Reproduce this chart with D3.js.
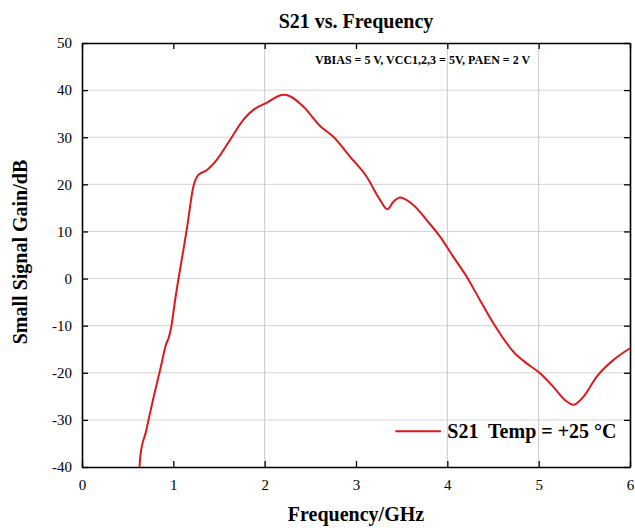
<!DOCTYPE html>
<html>
<head>
<meta charset="utf-8">
<script src="https://cdn.jsdelivr.net/npm/d3@7"></script>
<style>
  body { margin: 0; background: #fff; }
  text { font-family: "Liberation Serif", "Times New Roman", serif; }
</style>
</head>
<body>
<div id="chart"></div>
<script>
// Data
let freq = [0.63, 0.64, 0.70, 0.78, 0.86, 0.92, 0.95, 0.975, 1.02, 1.11, 1.146,
            1.219, 1.274, 1.365, 1.475, 1.62, 1.766, 1.876, 2.022, 2.204, 2.277, 2.423, 2.606,
            2.752, 2.934, 3.117, 3.263, 3.343, 3.409, 3.482, 3.628, 3.774, 3.92, 4.066, 4.212,
            4.358, 4.504, 4.741, 4.869, 5.015, 5.161, 5.289, 5.38, 5.489, 5.636, 5.818, 6.0];
let gain = [-40, -37.5, -32.5, -25.5, -19, -14, -12.5, -10.5, -4.5, 6.1, 10.3,
            19.5, 22.0, 23.0, 25.2, 29.4, 33.7, 35.8, 37.3, 39.0, 38.7, 36.5, 32.4,
            30.1, 25.9, 21.6, 16.7, 14.7, 16.3, 17.2, 15.6, 12.4, 8.9, 4.6, 0.4,
            -4.6, -9.5, -15.9, -18.0, -20.1, -23.0, -25.8, -26.8, -25.1, -20.8, -17.3, -14.8];
let xTicks = [0, 1, 2, 3, 4, 5, 6];
let yTicks = [50, 40, 30, 20, 10, 0, -10, -20, -30, -40];
let seriesName = "S21  Temp = +25 \u00B0C";

let svgWidth = 635;
let svgHeight = 528;
let margin = { top: 43, right: 5, bottom: 61, left: 82 };
let width = 630 - margin.left;
let height = 467 - margin.top;

let svg = d3.select("#chart").append("svg")
  .attr("width", svgWidth)
  .attr("height", svgHeight);

let chartGroup = svg.append("g")
  .attr("transform", `translate(${margin.left}, ${margin.top})`);

let xScale = d3.scaleLinear().domain([0, 6]).range([0, width]);
let yScale = d3.scaleLinear().domain([-40, 50]).range([height, 0]);

// grid
chartGroup.append("g").selectAll("line")
  .data(yTicks.slice(1, -1))
  .enter().append("line")
  .attr("x1", 0).attr("x2", width)
  .attr("y1", d => yScale(d)).attr("y2", d => yScale(d))
  .attr("stroke", "#d4d4d4").attr("stroke-width", 1);

chartGroup.append("g").selectAll("line")
  .data([2, 4, 5])
  .enter().append("line")
  .attr("y1", 0).attr("y2", height)
  .attr("x1", d => xScale(d)).attr("x2", d => xScale(d))
  .attr("stroke", "#c8c8c8").attr("stroke-width", 1);

// axes with inward ticks
let plain = d => String(d);
let bottomAxis = d3.axisBottom(xScale).tickValues(xTicks).tickFormat(plain).tickSizeInner(-6).tickSizeOuter(0).tickPadding(12);
let leftAxis = d3.axisLeft(yScale).tickValues(yTicks).tickFormat(plain).tickSizeInner(-6).tickSizeOuter(0).tickPadding(10);
let topAxis = d3.axisTop(xScale).tickValues(xTicks).tickSizeInner(-6).tickSizeOuter(0).tickFormat("");
let rightAxis = d3.axisRight(yScale).tickValues(yTicks).tickSizeInner(-6).tickSizeOuter(0).tickFormat("");

function styleAxis(g) {
  g.selectAll(".domain").attr("stroke", "#000").attr("stroke-width", 1.6);
  g.selectAll(".tick line").attr("stroke", "#000").attr("stroke-width", 1.3);
  g.selectAll(".tick text")
    .attr("fill", "#000")
    .style("font-family", "'Liberation Serif', serif")
    .style("font-size", "15px");
}

chartGroup.append("g").attr("transform", `translate(0, ${height})`).call(bottomAxis).call(styleAxis);
chartGroup.append("g").call(leftAxis).call(styleAxis);
chartGroup.append("g").call(topAxis).call(styleAxis);
chartGroup.append("g").attr("transform", `translate(${width}, 0)`).call(rightAxis).call(styleAxis);

// curve
let line = d3.line()
  .x((d, i) => xScale(freq[i]))
  .y((d, i) => yScale(gain[i]))
  .curve(d3.curveMonotoneX);

chartGroup.append("path")
  .datum(gain)
  .attr("d", line)
  .attr("fill", "none")
  .attr("stroke", "#dc1a1e")
  .attr("stroke-width", 2);

// annotation
chartGroup.append("text")
  .attr("x", xScale(2.55))
  .attr("y", yScale(45.6))
  .style("font-size", "12px")
  .style("font-weight", "bold")
  .text("VBIAS = 5 V, VCC1,2,3 = 5V, PAEN = 2 V");

// legend
chartGroup.append("line")
  .attr("x1", xScale(3.43)).attr("x2", xScale(3.93))
  .attr("y1", yScale(-32.4)).attr("y2", yScale(-32.4))
  .attr("stroke", "#dc1a1e").attr("stroke-width", 2);

chartGroup.append("text")
  .attr("x", xScale(4.0))
  .attr("y", yScale(-32.4) + 7)
  .style("font-size", "20px")
  .style("font-weight", "bold")
  .attr("xml:space", "preserve")
  .text(seriesName);

// titles
svg.append("text")
  .attr("x", margin.left + width / 2)
  .attr("y", 28)
  .attr("text-anchor", "middle")
  .style("font-size", "20px")
  .style("font-weight", "bold")
  .text("S21 vs. Frequency");

svg.append("text")
  .attr("x", margin.left + width / 2)
  .attr("y", 521)
  .attr("text-anchor", "middle")
  .style("font-size", "20px")
  .style("font-weight", "bold")
  .text("Frequency/GHz");

svg.append("text")
  .attr("transform", "rotate(-90)")
  .attr("x", -(margin.top + height / 2 - 3))
  .attr("y", 27)
  .attr("text-anchor", "middle")
  .style("font-size", "20px")
  .style("font-weight", "bold")
  .text("Small Signal Gain/dB");
</script>
</body>
</html>
